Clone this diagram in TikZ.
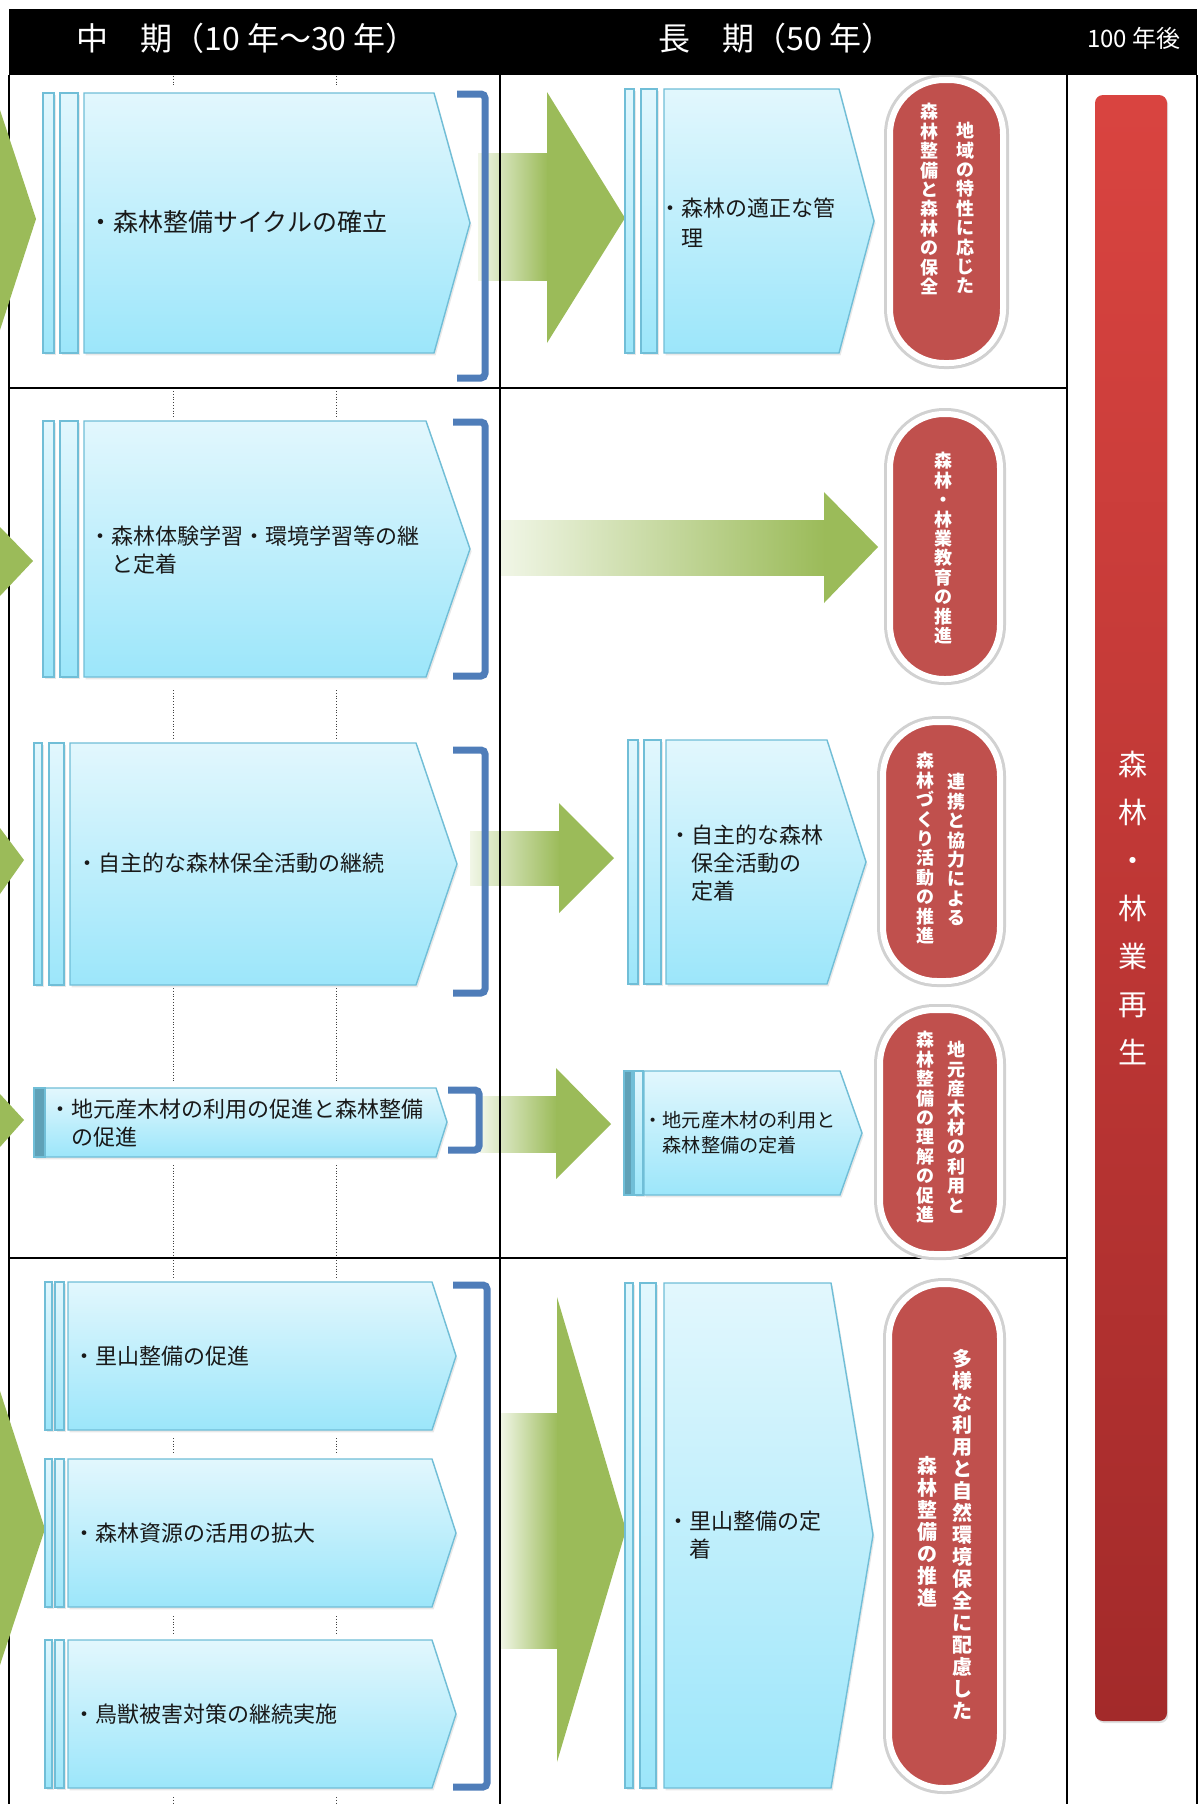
\documentclass[tikz,border=0pt]{standalone}
\usepackage{fontspec}
\newfontfamily\jp{Noto Sans CJK JP}
\usetikzlibrary{shadows}
\definecolor{leaf}{RGB}{155,187,89}
\definecolor{leafpale}{RGB}{241,246,231}
\definecolor{capred}{RGB}{192,80,77}
\definecolor{brk}{RGB}{79,125,185}
\definecolor{boxtop}{RGB}{226,247,253}
\definecolor{boxbot}{RGB}{156,230,250}
\definecolor{boxline}{RGB}{112,190,215}
\definecolor{bartop}{RGB}{217,68,64}
\definecolor{barbot}{RGB}{163,42,42}

\begin{document}
\begin{tikzpicture}[x=0.5pt, y=-0.5pt,
    gridline/.style={black, line width=1.3pt},
    dotline/.style={black!75, line width=0.4pt, densely dotted},
    bluebox/.style={draw=boxline, line width=0.7pt, top color=boxtop, bottom color=boxbot,
        drop shadow={opacity=0.18, shadow xshift=0.8pt, shadow yshift=-1.2pt}},
    darkstripe/.style={draw=boxline, line width=0.7pt, fill=boxline!85!black},
    bracket/.style={draw=brk, line width=3.5pt, rounded corners=2pt},
    shaft/.style={left color=leafpale, right color=leaf},
    head/.style={fill=leaf},
    capsule/.style={fill=capred, draw=white, line width=3pt, rounded corners=27pt,
        preaction={draw=black!18, line width=6pt},
        drop shadow={opacity=0.2, shadow xshift=0.6pt, shadow yshift=-1.6pt}},
    boxtext/.style={font=\jp\fontsize{11}{14}\selectfont, text=black!90, inner sep=0, anchor=west, align=left},
    vtext/.style={font=\jp\bfseries\fontsize{9}{9.7}\selectfont, text=white, inner sep=0, anchor=north, align=center},
    headtext/.style={font=\jp\fontsize{16}{18}\selectfont, text=white, inner sep=0}
]
    \useasboundingbox (0,0) rectangle (1200,1804);
    \fill[white] (0,0) rectangle (1200,1804);

    % dotted guide lines in the left column
    \foreach \ya/\yb in {76/86, 391/418, 690/738, 988/1082, 1165/1278, 1438/1454, 1616/1634, 1797/1804}
        \foreach \xx in {173,336}
            \draw[dotline] (\xx,\ya) -- (\xx,\yb);

    % green arrows into the long-term column
    \shade[shaft] (478,153) rectangle (548,280);
    \fill[head] (547,92) -- (625,218) -- (547,343) -- cycle;
    \shade[shaft] (500,520) rectangle (825,575);
    \fill[head] (824,492) -- (878,547) -- (824,603) -- cycle;
    \shade[shaft] (470,831) rectangle (560,885);
    \fill[head] (559,803) -- (614,858) -- (559,913) -- cycle;
    \shade[shaft] (480,1096) rectangle (557,1152);
    \fill[head] (556,1068) -- (611,1124) -- (556,1179) -- cycle;
    \shade[shaft] (500,1413) rectangle (558,1648);
    \fill[head] (557,1297) -- (626,1530) -- (557,1762) -- cycle;

    % table lines
    \draw[gridline] (9,75) -- (9,1804);
    \draw[gridline] (500,75) -- (500,1804);
    \draw[gridline] (1067,75) -- (1067,1804);
    \draw[gridline] (1197,75) -- (1197,1804);
    \draw[gridline] (9,388) -- (1067,388);
    \draw[gridline] (9,1258) -- (1067,1258);

    % arrow tips coming from the left
    \fill[head] (0,110) -- (36,219) -- (0,330) -- cycle;
    \fill[head] (0,527) -- (33,561) -- (0,596) -- cycle;
    \fill[head] (0,828) -- (24,860) -- (0,894) -- cycle;
    \fill[head] (0,1094) -- (24,1120) -- (0,1147) -- cycle;
    \fill[head] (0,1391) -- (45,1529) -- (0,1665) -- cycle;

    % middle-term boxes
    \shadedraw[bluebox] (43,93) rectangle (54,353);
    \shadedraw[bluebox] (60,93) rectangle (78,353);
    \shadedraw[bluebox] (84,93) -- (434,93) -- (470,223) -- (434,353) -- (84,353) -- cycle;
    \node[boxtext, font=\jp\fontsize{12.5}{15}\selectfont] (mid1) at (88,222) {・森林整備サイクルの確立};

    \shadedraw[bluebox] (43,421) rectangle (54,677);
    \shadedraw[bluebox] (60,421) rectangle (78,677);
    \shadedraw[bluebox] (84,421) -- (426,421) -- (470,549) -- (426,677) -- (84,677) -- cycle;
    \node[boxtext] (mid2) at (89,550) {・森林体験学習・環境学習等の継\\\phantom{・}と定着};

    \shadedraw[bluebox] (34,743) rectangle (42,985);
    \shadedraw[bluebox] (49,743) rectangle (64,985);
    \shadedraw[bluebox] (70,743) -- (416,743) -- (457,864) -- (416,985) -- (70,985) -- cycle;
    \node[boxtext] (mid3) at (76,863) {・自主的な森林保全活動の継続};

    \shadedraw[bluebox] (34,1088) -- (436,1088) -- (447,1122) -- (436,1157) -- (34,1157) -- cycle;
    \filldraw[darkstripe] (34,1088) rectangle (45,1157);
    \node[boxtext] (mid4) at (49,1123) {・地元産木材の利用の促進と森林整備\\\phantom{・}の促進};

    \foreach \ya/\yb/\nm/\txt in {1282/1430/mid5/里山整備の促進,
                                  1459/1607/mid6/森林資源の活用の拡大,
                                  1640/1788/mid7/鳥獣被害対策の継続実施} {
        \shadedraw[bluebox] (45,\ya) rectangle (52,\yb);
        \shadedraw[bluebox] (55,\ya) rectangle (64,\yb);
        \shadedraw[bluebox] (68,\ya) -- (432,\ya) -- (456,{(\ya+\yb)/2}) -- (432,\yb) -- (68,\yb) -- cycle;
        \node[boxtext] (\nm) at (73,{(\ya+\yb)/2}) {・\txt};
    }

    % long-term boxes
    \shadedraw[bluebox] (625,89) rectangle (634,353);
    \shadedraw[bluebox] (641,89) rectangle (657,353);
    \shadedraw[bluebox] (664,89) -- (839,89) -- (874,221) -- (839,353) -- (664,353) -- cycle;
    \node[boxtext, font=\jp\fontsize{11}{15}\selectfont] (long1) at (659,223) {・森林の適正な管\\\phantom{・}理};

    \shadedraw[bluebox] (628,740) rectangle (638,984);
    \shadedraw[bluebox] (644,740) rectangle (661,984);
    \shadedraw[bluebox] (666,740) -- (827,740) -- (866,862) -- (827,984) -- (666,984) -- cycle;
    \node[boxtext] (long3) at (669,863) {・自主的な森林\\\phantom{・}保全活動の\\\phantom{・}定着};

    \shadedraw[bluebox] (634,1071) rectangle (643,1195);
    \filldraw[darkstripe] (624,1071) rectangle (632,1195);
    \shadedraw[bluebox] (644,1071) -- (840,1071) -- (862,1133) -- (840,1195) -- (644,1195) -- cycle;
    \node[boxtext, font=\jp\fontsize{9.6}{12.5}\selectfont] (long4) at (643,1133) {・地元産木材の利用と\\\phantom{・}森林整備の定着};

    \shadedraw[bluebox] (625,1283) rectangle (633,1788);
    \shadedraw[bluebox] (640,1283) rectangle (656,1788);
    \shadedraw[bluebox] (664,1283) -- (831,1283) -- (873,1535) -- (831,1788) -- (664,1788) -- cycle;
    \node[boxtext] (long5) at (667,1535) {・里山整備の定\\\phantom{・}着};

    % brackets
    \draw[bracket] (457,94) -- (485,94) -- (485,378) -- (457,378);
    \draw[bracket] (453,422) -- (485,422) -- (485,676) -- (453,676);
    \draw[bracket] (453,750) -- (485,750) -- (485,993) -- (453,993);
    \draw[bracket] (448,1090) -- (479,1090) -- (479,1150) -- (448,1150);
    \draw[bracket] (453,1285) -- (487,1285) -- (487,1787) -- (453,1787);

    % goals
    \draw[capsule] (890,80) rectangle (1003,363);
    \node[vtext] (goal1a) at (965,122) {地\\域\\の\\特\\性\\に\\応\\じ\\た};
    \node[vtext] (goal1b) at (929,103) {森\\林\\整\\備\\と\\森\\林\\の\\保\\全};

    \draw[capsule] (890,414) rectangle (1000,679);
    \node[vtext] (goal2) at (943,452) {森\\林\\・\\林\\業\\教\\育\\の\\推\\進};

    \draw[capsule] (883,722) rectangle (1000,981);
    \node[vtext] (goal3a) at (956,773) {連\\携\\と\\協\\力\\に\\よ\\る};
    \node[vtext] (goal3b) at (925,752) {森\\林\\づ\\く\\り\\活\\動\\の\\推\\進};

    \draw[capsule] (880,1010) rectangle (1000,1254);
    \node[vtext] (goal4a) at (956,1041) {地\\元\\産\\木\\材\\の\\利\\用\\と};
    \node[vtext] (goal4b) at (925,1031) {森\\林\\整\\備\\の\\理\\解\\の\\促\\進};

    \draw[capsule] (889,1284) rectangle (1000,1788);
    \node[vtext, font=\jp\bfseries\fontsize{10}{11}\selectfont] (goal5a) at (962,1349)
        {多\\様\\な\\利\\用\\と\\自\\然\\環\\境\\保\\全\\に\\配\\慮\\し\\た};
    \node[vtext, font=\jp\bfseries\fontsize{10}{11}\selectfont] (goal5b) at (927,1456)
        {森\\林\\整\\備\\の\\推\\進};

    % 100 years
    \shade[top color=bartop, bottom color=barbot, rounded corners=4pt,
        drop shadow={opacity=0.25, shadow xshift=0.6pt, shadow yshift=-1pt}] (1095,95) rectangle (1167,1721);
    \node[font=\jp\fontsize{14.5}{24}\selectfont, text=white, inner sep=0, align=center] (vision) at (1133,908)
        {森\\林\\・\\林\\業\\再\\生};

    % header
    \fill[black] (9,9) rectangle (1197,75);
    \node[headtext] (hmid) at (247,38) {中　期（10 年～30 年）};
    \node[headtext] (hlong) at (776,38) {長　期（50 年）};
    \node[headtext, font=\jp\fontsize{12}{14}\selectfont] (h100) at (1134,38) {100 年後};
\end{tikzpicture}
\end{document}
